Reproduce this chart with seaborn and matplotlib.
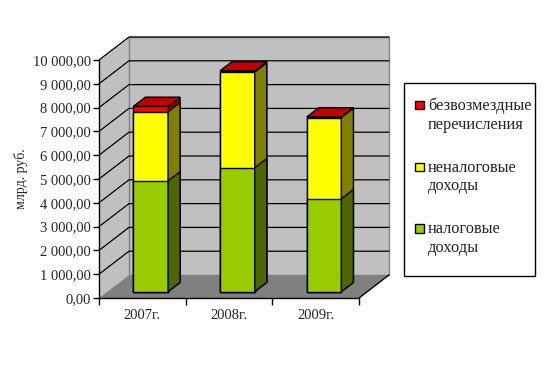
import numpy as np
import matplotlib.pyplot as plt
import seaborn as sns
from matplotlib.patches import Polygon, Patch, Rectangle
from matplotlib.lines import Line2D
from matplotlib.ticker import FixedLocator
from matplotlib.legend_handler import HandlerPatch

# ==========================================
# Data (federal budget revenues, bn rub.)
# ==========================================
years = ["2007г.", "2008г.", "2009г."]
tax = [4650, 5200, 3900]          # налоговые доходы
nontax = [2900, 4020, 3410]       # неналоговые доходы
transfers = [231, 56, 27]         # безвозмездные перечисления
series_names = ["налоговые\nдоходы", "неналоговые\nдоходы", "безвозмездные\nперечисления"]
y_ticks = list(range(0, 10001, 1000))

front_colors = ["#99CC00", "#FFFF00", "#FF0000"]
side_colors = ["#4D6600", "#808000", "#800000"]
top_color = "#C00000"

# ==========================================
# Style
# ==========================================
sns.set_style("white")
plt.rcParams["font.family"] = ["Liberation Serif", "DejaVu Serif"]
plt.rcParams["font.size"] = 10.5

W, H = 546, 365
fig = plt.figure(figsize=(W / 100, H / 100), dpi=100)
ax = fig.add_axes([99 / W, 1 - 298 / H, 260 / W, 238 / H])

# depth of the fake 3D box, in data units
DX = 0.346
DY = 966
BAR_Z0, BAR_Z1 = 0.28, 0.68
x0, x1 = -0.5, 2.5
ymax = y_ticks[-1]

# ==========================================
# Stacked bars (front faces) via seaborn
# ==========================================
cum_nontax = np.add(tax, nontax)
cum_total = cum_nontax + np.array(transfers)
tops = [np.array(tax), cum_nontax, cum_total]

bd = (BAR_Z1 - BAR_Z0) * DX
bdy = (BAR_Z1 - BAR_Z0) * DY

for k in [2, 1, 0]:
    n = len(ax.patches)
    sns.barplot(x=years, y=tops[k], color=front_colors[k], saturation=1,
                width=0.4, edgecolor="black", linewidth=1, ax=ax, zorder=3)
    for p in ax.patches[n:]:
        # push the front face back into the box
        p.set_x(p.get_x() + BAR_Z0 * DX)
        p.set_y(p.get_y() + BAR_Z0 * DY)
        xl = p.get_x()
        xr = xl + p.get_width()
        yb = p.get_y()
        yt = yb + p.get_height()
        ax.add_patch(Polygon([(xr, yb), (xr + bd, yb + bdy), (xr + bd, yt + bdy), (xr, yt)],
                             fc=side_colors[k], ec="black", lw=1, zorder=3, clip_on=False))
        if k == 2:
            ax.add_patch(Polygon([(xl, yt), (xr, yt), (xr + bd, yt + bdy), (xl + bd, yt + bdy)],
                                 fc=top_color, ec="black", lw=1, zorder=3, clip_on=False))

# ==========================================
# Walls, floor and gridlines
# ==========================================
ax.add_patch(Polygon([(x0, 0), (x0 + DX, DY), (x0 + DX, ymax + DY), (x0, ymax)],
                     fc="#C0C0C0", ec="none", zorder=0, clip_on=False))
ax.add_patch(Polygon([(x0 + DX, DY), (x1 + DX, DY), (x1 + DX, ymax + DY), (x0 + DX, ymax + DY)],
                     fc="#C0C0C0", ec="#808080", lw=1, zorder=0, clip_on=False))
ax.add_patch(Polygon([(x0, 0), (x1, 0), (x1 + DX, DY), (x0 + DX, DY)],
                     fc="#808080", ec="none", zorder=0.5, clip_on=False))
for v in y_ticks[1:]:
    ax.add_line(Line2D([x0, x0 + DX, x1 + DX], [v, v + DY, v + DY], color="black",
                       lw=0.9, zorder=1, clip_on=False))
ax.add_line(Line2D([x1, x1 + DX], [0, DY], color="black", lw=1, zorder=2, clip_on=False))

# ==========================================
# Axes
# ==========================================
ax.set_xlim(x0, x1)
ax.set_ylim(0, ymax)
for s in ["top", "right"]:
    ax.spines[s].set_visible(False)
for s in ["left", "bottom"]:
    ax.spines[s].set_color("black")
    ax.spines[s].set_linewidth(1)
    ax.spines[s].set_zorder(2)

ax.set_yticks(y_ticks)
ax.set_yticklabels([f"{v:,.2f}".replace(",", " ").replace(".", ",") for v in y_ticks])
ax.xaxis.set_minor_locator(FixedLocator([-0.5, 0.5, 1.5, 2.5]))
ax.tick_params(axis="y", left=True, length=4, width=1, color="black", pad=2, labelsize=10.5)
ax.tick_params(axis="x", which="major", bottom=True, length=0, pad=8, labelsize=10.5)
ax.tick_params(axis="x", which="minor", bottom=True, length=5, width=1, color="black")
ax.set_ylabel("млрд. руб.", fontsize=10, labelpad=3)
ax.set_xlabel("")

# ==========================================
# Legend (own frame, Excel-like padding)
# ==========================================
fig.add_artist(Rectangle((404 / W, 1 - 276 / H), 131 / W, 193 / H, transform=fig.transFigure,
                         fc="white", ec="black", lw=1, zorder=4))


def square_at_bottom(legend, orig_handle, xdescent, ydescent, width, height, fontsize):
    return Rectangle((-xdescent, -ydescent), width, width)


handles = [Patch(fc=front_colors[k], ec="black", lw=1, label=series_names[k]) for k in [2, 1, 0]]
leg = fig.legend(handles=handles, loc="upper left", bbox_to_anchor=(415 / W, 1 - 98 / H),
                 frameon=False, handlelength=0.53, handleheight=0.7, handletextpad=0.25,
                 labelspacing=1.65, borderpad=0, borderaxespad=0, fontsize=11.8,
                 handler_map={Patch: HandlerPatch(patch_func=square_at_bottom)})
leg.set_zorder(5)
# put each square next to the first line of its label
for row in leg._legend_handle_box.get_children()[0].get_children():
    row.align = "top"

fig.savefig("out.png", dpi=100)
